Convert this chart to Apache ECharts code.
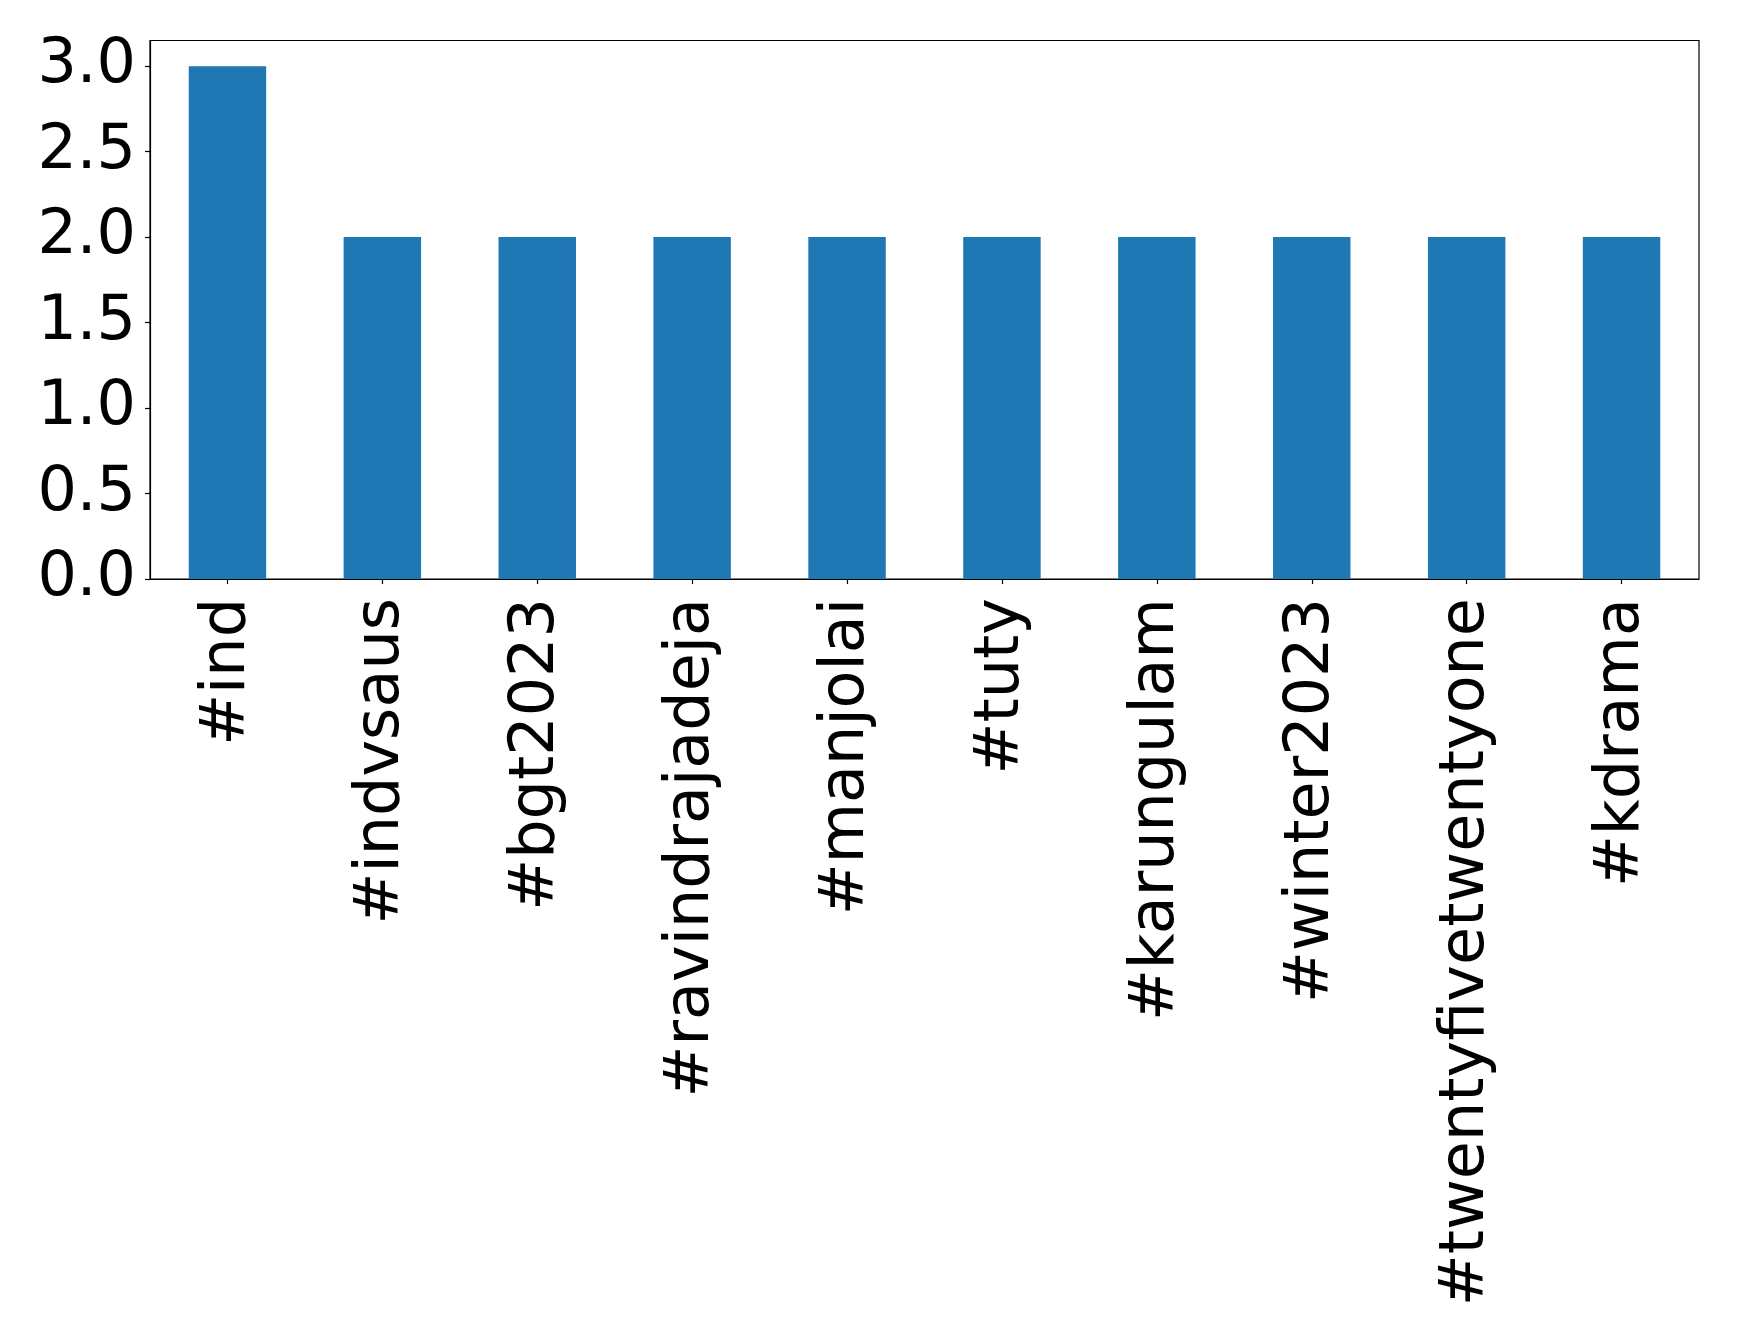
<!DOCTYPE html>
<html>
<head>
<meta charset="utf-8">
<script src="https://cdn.jsdelivr.net/npm/echarts@6/dist/echarts.min.js"></script>
<style>html,body{margin:0;padding:0;background:#fff}#c{width:1739px;height:1342px}</style>
</head>
<body>
<div id="c"></div>
<script>
const categories = ['#ind', '#indvsaus', '#bgt2023', '#ravindrajadeja', '#manjolai', '#tuty', '#karungulam', '#winter2023', '#twentyfivetwentyone', '#kdrama'];
const counts = [3, 2, 2, 2, 2, 2, 2, 2, 2, 2];
const yTicks = [0, 0.5, 1.0, 1.5, 2.0, 2.5, 3.0];

const chart = echarts.init(document.getElementById('c'), null, {renderer: 'canvas'});
const font = 'DejaVu Sans';
chart.setOption({
  animation: false,
  backgroundColor: '#ffffff',
  grid: {
    left: 150, right: 40, top: 40.5, bottom: 763,
    show: true, borderColor: '#000', borderWidth: 1.2,
    containLabel: false, outerBoundsMode: 'none'
  },
  xAxis: {
    type: 'category',
    data: categories,
    boundaryGap: true,
    axisLine: {show: true, lineStyle: {color: '#000', width: 1.2}},
    axisTick: {show: true, alignWithLabel: true, length: 5, lineStyle: {color: '#000', width: 1.2}},
    axisLabel: {rotate: 90, margin: 19, color: '#000', fontFamily: font, fontSize: 62, interval: 0},
    splitLine: {show: false}
  },
  yAxis: {
    type: 'value',
    min: 0, max: 3.15,
    axisLine: {show: true, lineStyle: {color: '#000', width: 1.2}},
    axisTick: {show: true, length: 5, lineStyle: {color: '#000', width: 1.2}, customValues: yTicks},
    axisLabel: {color: '#000', fontFamily: font, fontSize: 62, margin: 14, customValues: yTicks,
      formatter: v => Number(v).toFixed(1)},
    splitLine: {show: false}
  },
  series: [{
    type: 'bar',
    data: counts,
    barWidth: '50%',
    itemStyle: {color: '#1f77b4'}
  }]
});
</script>
</body>
</html>
